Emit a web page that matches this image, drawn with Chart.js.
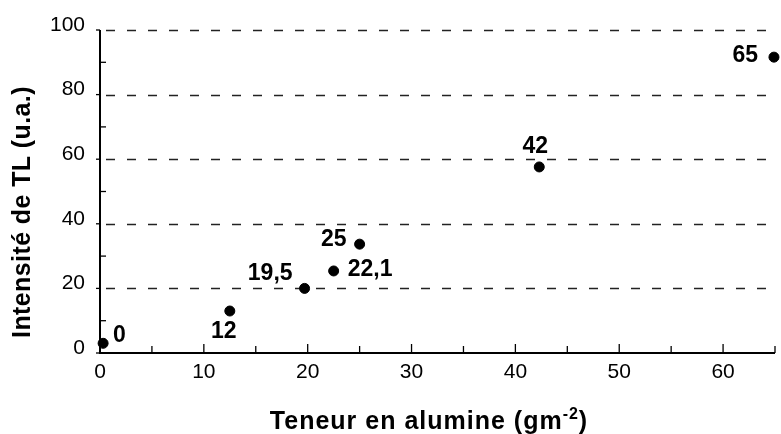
<!DOCTYPE html>
<html>
<head>
<meta charset="utf-8">
<script src="https://cdn.jsdelivr.net/npm/chart.js@4"></script>
<style>
  html, body { margin: 0; padding: 0; background: #fff; }
  #wrap { width: 781px; height: 434px; }
</style>
</head>
<body>
<div id="wrap"><canvas id="tlChart" width="781" height="434"></canvas></div>
<script>
// values
const alumina = [0.3, 12.5, 19.7, 22.5, 25.0, 42.3, 64.9];
const intensity = [3, 13, 20, 25.4, 33.7, 57.6, 91.6];
const pointLabels = ['0', '12', '19,5', '22,1', '25', '42', '65'];
const xTicks = [0, 10, 20, 30, 40, 50, 60];
const yTicks = [0, 20, 40, 60, 80, 100];

// where each label sits relative to its point (px)
const labelPlacement = [
    { dx: 10, dy: -8, align: 'left' },
    { dx: -6, dy: 21, align: 'center' },
    { dx: -12, dy: -15, align: 'right' },
    { dx: 14, dy: -1, align: 'left' },
    { dx: -13, dy: -4, align: 'right' },
    { dx: -4, dy: -20, align: 'center' },
    { dx: -16, dy: -1, align: 'right' }
];

const FONT = '"Liberation Sans", Arial, Helvetica, sans-serif';

const axesPlugin = {
    id: 'axesPlugin',
    beforeDatasetsDraw(chart) {
        const ctx = chart.ctx;
        const x = chart.scales.x, y = chart.scales.y;
        const a = chart.chartArea;
        ctx.save();

        // dashed horizontal grid
        ctx.strokeStyle = '#222';
        ctx.lineWidth = 1.4;
        ctx.setLineDash([9, 12]);
        yTicks.forEach(v => {
            if (v === 0) return;
            const py = Math.round(y.getPixelForValue(v)) + 0.5;
            ctx.beginPath();
            ctx.moveTo(a.left + 6, py);
            ctx.lineTo(a.right - 9, py);
            ctx.stroke();
        });
        ctx.setLineDash([]);

        // axis lines
        ctx.strokeStyle = '#000';
        ctx.lineWidth = 2;
        ctx.beginPath();
        ctx.moveTo(a.left, a.top);
        ctx.lineTo(a.left, a.bottom);
        ctx.lineTo(a.right, a.bottom);
        ctx.stroke();

        // y ticks
        ctx.lineWidth = 1.3;
        for (let v = 0; v <= 100; v += 10) {
            const py = y.getPixelForValue(v);
            ctx.beginPath();
            if (v % 20 === 0) {
                ctx.moveTo(a.left - 4, py);
                ctx.lineTo(a.left, py);
            } else {
                ctx.moveTo(a.left, py);
                ctx.lineTo(a.left + 6, py);
            }
            ctx.stroke();
        }

        // x ticks, pointing up
        for (let v = 5; v <= 65; v += 5) {
            const px = x.getPixelForValue(v);
            const len = v % 10 === 0 ? 9 : 7;
            ctx.beginPath();
            ctx.moveTo(px, a.bottom);
            ctx.lineTo(px, a.bottom - len);
            ctx.stroke();
        }

        // axis titles
        ctx.fillStyle = '#000';
        ctx.letterSpacing = '1px';
        ctx.font = 'bold 25px ' + FONT;
        ctx.textBaseline = 'alphabetic';
        const main = 'Teneur en alumine (gm';
        const sup = '-2';
        const close = ')';
        const wMain = ctx.measureText(main).width;
        const wClose = ctx.measureText(close).width;
        ctx.font = 'bold 16px ' + FONT;
        const wSup = ctx.measureText(sup).width;
        let tx = 429 - (wMain + wSup + wClose) / 2;
        const base = 429;
        ctx.font = 'bold 25px ' + FONT;
        ctx.textAlign = 'left';
        ctx.fillText(main, tx, base);
        tx += wMain;
        ctx.font = 'bold 16px ' + FONT;
        ctx.fillText(sup, tx, base - 10);
        tx += wSup;
        ctx.font = 'bold 25px ' + FONT;
        ctx.fillText(close, tx, base);

        ctx.letterSpacing = '0.4px';
        ctx.translate(23, 212);
        ctx.rotate(-Math.PI / 2);
        ctx.textAlign = 'center';
        ctx.textBaseline = 'middle';
        ctx.fillText('Intensité de TL (u.a.)', 0, 0);
        ctx.restore();
    },
    afterDatasetsDraw(chart) {
        const ctx = chart.ctx;
        const x = chart.scales.x, y = chart.scales.y;
        ctx.save();
        ctx.fillStyle = '#000';
        ctx.font = 'bold 23px ' + FONT;
        ctx.textBaseline = 'middle';
        pointLabels.forEach((txt, i) => {
            const p = labelPlacement[i];
            ctx.textAlign = p.align;
            ctx.fillText(txt, x.getPixelForValue(alumina[i]) + p.dx, y.getPixelForValue(intensity[i]) + p.dy);
        });
        ctx.restore();
    }
};

const ctx = document.getElementById('tlChart').getContext('2d');
new Chart(ctx, {
    type: 'scatter',
    data: {
        datasets: [{
            data: alumina.map((v, i) => ({ x: v, y: intensity[i] })),
            backgroundColor: '#000',
            borderColor: '#000',
            pointRadius: 5,
            pointHoverRadius: 5,
            clip: false
        }]
    },
    options: {
        responsive: false,
        animation: false,
        events: [],
        layout: { padding: { top: 30, right: -2, left: 0, bottom: 0 } },
        plugins: {
            legend: { display: false },
            tooltip: { enabled: false }
        },
        scales: {
            x: {
                type: 'linear',
                min: 0,
                max: 65,
                grid: { display: false, drawTicks: false },
                border: { display: false },
                afterFit: scale => {
                    scale.height = 81;
                    scale.paddingRight = 0;
                    scale.paddingLeft = 0;
                },
                ticks: {
                    stepSize: 5,
                    autoSkip: false,
                    maxRotation: 0,
                    padding: 7,
                    color: '#000',
                    font: { family: FONT, size: 21 },
                    callback: v => (xTicks.includes(v) ? v : '')
                }
            },
            y: {
                min: 0,
                max: 100,
                grid: { display: false, drawTicks: false },
                border: { display: false },
                afterFit: scale => { scale.width = 100; },
                ticks: {
                    stepSize: 10,
                    autoSkip: false,
                    padding: 15,
                    labelOffset: -5,
                    color: '#000',
                    font: { family: FONT, size: 21 },
                    callback: v => (yTicks.includes(v) ? v : '')
                }
            }
        }
    },
    plugins: [axesPlugin]
});
</script>
</body>
</html>
